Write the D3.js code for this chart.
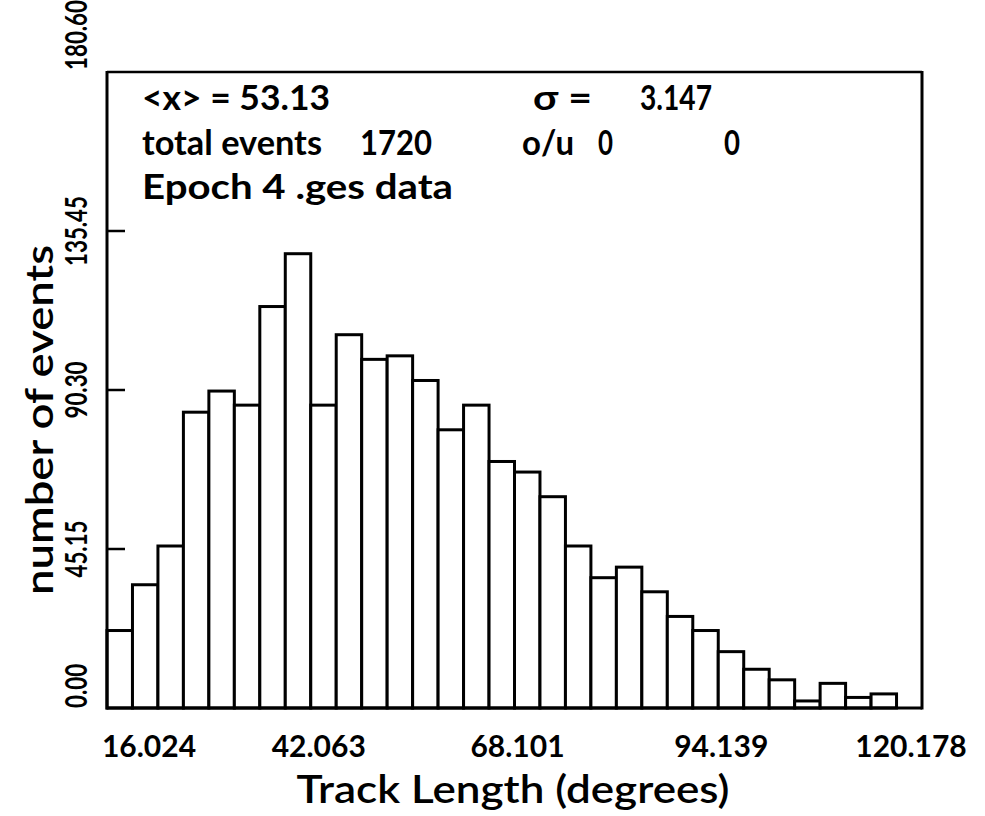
<!DOCTYPE html>
<html>
<head>
<meta charset="utf-8">
<script src="https://cdn.jsdelivr.net/npm/d3@7"></script>
<style>
  html, body { margin: 0; padding: 0; background: #fff; }
  svg { display: block; }
  text { font-family: "Lato", "DejaVu Sans", sans-serif; fill: #000; }
</style>
</head>
<body>
<svg id="chart" width="985" height="816"></svg>
<script>
// ---- data ----
const xMin = 16.024;
const xMax = 120.178;
const nBins = 32;
const counts = [22, 35, 46, 84, 90, 86, 114, 129, 86, 106, 99, 100, 93, 79, 86, 70,
                67, 60, 46, 37, 40, 33, 26, 22, 16, 11, 8, 2, 7, 3, 4, 0];
const xTickValues = [16.024, 42.063, 68.101, 94.139, 120.178];
const xTickLabels = ["16.024", "42.063", "68.101", "94.139", "120.178"];
const yTickValues = [0, 45.15, 90.30, 135.45, 180.60];
const yTickLabels = ["0.00", "45.15", "90.30", "135.45", "180.60"];
const yMax = 180.60;
const statRow1 = ["<x> =  53.13", "\u03C3 =", "3.147"];
const statRow2 = ["total events", "1720", "o/u", "0", "0"];
const statRow3 = ["Epoch 4 .ges data"];
const xTitle = "Track Length (degrees)";
const yTitle = "number of events";

// ---- layout ----
const L = 107, R = 922, T = 72, B = 708;
const svg = d3.select("#chart");
const x = d3.scaleLinear().domain([xMin, xMax]).range([L, R]);
const y = d3.scaleLinear().domain([0, yMax]).range([B, T]);
const bw = (xMax - xMin) / nBins;
const bins = counts.map((c, i) => ({ x0: xMin + i * bw, x1: xMin + (i + 1) * bw, c }));

// bars
svg.append("g").selectAll("rect")
  .data(bins.filter(d => d.c > 0))
  .join("rect")
  .attr("x", d => x(d.x0))
  .attr("width", d => x(d.x1) - x(d.x0))
  .attr("y", d => y(d.c))
  .attr("height", d => y(0) - y(d.c))
  .attr("fill", "#fff")
  .attr("stroke", "#000")
  .attr("stroke-width", 3);

// frame
const frame = svg.append("g").attr("stroke", "#000").attr("fill", "none");
frame.append("line").attr("x1", L).attr("x2", R).attr("y1", T).attr("y2", T).attr("stroke-width", 2.5);
frame.append("line").attr("x1", L).attr("x2", R).attr("y1", B).attr("y2", B).attr("stroke-width", 3);
frame.append("line").attr("x1", L).attr("x2", L).attr("y1", T - 1).attr("y2", B + 1.5).attr("stroke-width", 3);
frame.append("line").attr("x1", R).attr("x2", R).attr("y1", T - 1).attr("y2", B + 1.5).attr("stroke-width", 3);

// y ticks (inside)
svg.append("g").selectAll("line")
  .data(yTickValues.slice(1, -1))
  .join("line")
  .attr("x1", L).attr("x2", L + 18)
  .attr("y1", d => y(d)).attr("y2", d => y(d))
  .attr("stroke", "#000").attr("stroke-width", 2.5);

// y tick labels (rotated, condensed)
const yAnchors = ["start", "middle", "middle", "middle", "start"];
svg.append("g").selectAll("text")
  .data(yTickValues)
  .join("text")
  .attr("transform", (d, i) => `translate(87,${y(d) - (i === yTickValues.length - 1 ? 2 : 0)}) rotate(-90) scale(0.72,1)`)
  .attr("text-anchor", (d, i) => yAnchors[i])
  .attr("font-size", 31)
  .attr("font-weight", 700)
  .text((d, i) => yTickLabels[i]);

// x tick labels
const xLabelDx = [42, 8, 3, 3, -11];
svg.append("g").selectAll("text")
  .data(xTickValues)
  .join("text")
  .attr("x", (d, i) => x(d) + xLabelDx[i])
  .attr("y", 757)
  .attr("text-anchor", "middle")
  .attr("font-size", 30)
  .attr("font-weight", 700)
  .text((d, i) => xTickLabels[i]);

// axis titles
svg.append("text")
  .attr("x", 513).attr("y", 803)
  .attr("text-anchor", "middle")
  .attr("font-size", 39)
  .attr("font-weight", 600)
  .attr("textLength", 433).attr("lengthAdjust", "spacingAndGlyphs")
  .text(xTitle);

svg.append("text")
  .attr("transform", "translate(53,420) rotate(-90)")
  .attr("text-anchor", "middle")
  .attr("font-size", 38)
  .attr("font-weight", 600)
  .attr("textLength", 350).attr("lengthAdjust", "spacingAndGlyphs")
  .text(yTitle);

// statistics box text
const statLayout = [
  { row: statRow1, y: 110, xs: [[142, 330], [533, 592], [640, 712]] },
  { row: statRow2, y: 155, xs: [[142, 322], [360, 432], [522, 574], [598, 613], [724, 740]] },
  { row: statRow3, y: 199, xs: [[142, 453]] }
];
const stats = svg.append("g");
statLayout.forEach(r => {
  r.row.forEach((t, i) => {
    stats.append("text")
      .attr("x", r.xs[i][0]).attr("y", r.y)
      .attr("font-size", 35)
      .attr("font-weight", 700)
      .attr("textLength", r.xs[i][1] - r.xs[i][0])
      .attr("lengthAdjust", "spacingAndGlyphs")
      .text(t);
  });
});
</script>
</body>
</html>
